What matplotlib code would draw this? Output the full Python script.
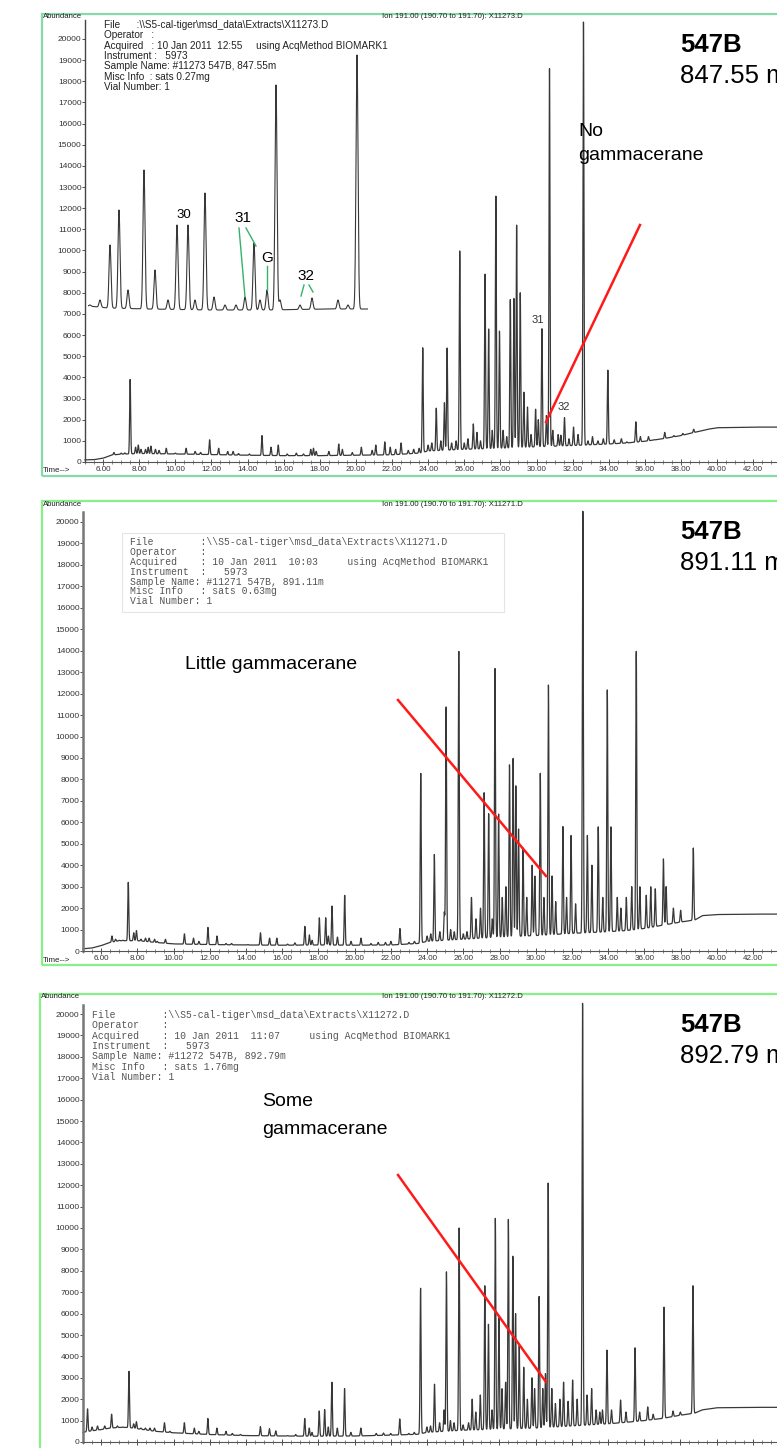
import numpy as np
import matplotlib
matplotlib.use("Agg")
import matplotlib.pyplot as plt
from matplotlib.patches import Rectangle
from matplotlib.lines import Line2D
from matplotlib.ticker import MultipleLocator, FormatStrFormatter

W, H = 777, 1448
plt.rcParams['font.family'] = ['Liberation Sans', 'DejaVu Sans']

# ---------------- data ----------------
# Panel 1 (847.55 m)
p1_base_t = [5, 5.5, 6, 6.5, 7, 8, 10, 12, 14, 16, 18, 20, 22, 23.5, 24, 26, 28, 30, 32, 34, 35, 36, 37, 38, 39, 39.5, 40, 42, 44]
p1_base_a = [100, 110, 180, 330, 370, 400, 380, 350, 320, 300, 300, 320, 340, 420, 520, 600, 650, 720, 780, 850, 900, 980, 1100, 1250, 1450, 1550, 1620, 1650, 1650]
p1_peak_t = [6.6, 7.0, 7.2, 7.5, 7.8, 7.95, 8.1, 8.35, 8.5, 8.65, 8.9, 9.1, 9.5, 10.0, 10.6, 11.1, 11.4, 11.9, 12.4, 12.9, 13.2, 13.5, 14.1, 14.8, 15.3, 15.7, 16.2, 16.7, 17.1, 17.5, 17.65, 17.8, 18.5, 19.05, 19.25, 19.8, 20.3, 20.9, 21.1, 21.6, 21.9, 22.2, 22.5, 22.9, 23.2, 23.5,
             23.7, 24.0, 24.2, 24.45, 24.7, 24.9, 25.05, 25.3, 25.55, 25.75, 26.0, 26.2, 26.5, 26.7, 26.9, 27.15, 27.35, 27.55, 27.75, 27.95, 28.15, 28.35, 28.55, 28.75, 28.9, 29.1, 29.3, 29.5, 29.7, 29.95, 30.1, 30.3, 30.55, 30.72, 30.9, 31.2, 31.35, 31.55, 31.8, 32.05, 32.3, 32.6, 32.85, 33.1, 33.4, 33.7, 33.95, 34.3, 34.7, 35.0, 35.5, 35.75, 36.2, 36.5, 37.1, 37.6, 38.1, 38.7]
p1_peak_a = [450, 420, 430, 3900, 700, 800, 600, 600, 700, 750, 600, 550, 650, 420, 650, 500, 450, 1050, 650, 500, 500, 400, 380, 1250, 700, 800, 380, 420, 380, 600, 650, 500, 500, 850, 600, 450, 700, 550, 800, 950, 700, 600, 900, 550, 600, 650,
             5400, 800, 900, 2550, 1000, 2800, 5400, 900, 1000, 10000, 900, 1100, 1800, 1400, 1000, 8900, 6300, 1500, 12600, 6200, 1500, 1200, 7700, 7750, 11200, 8000, 3300, 2600, 1300, 2500, 2000, 6300, 2200, 18600, 1500, 1300, 1270, 2100, 1100, 1650, 1300, 20800, 1000, 1200, 1000, 1100, 4350, 1050, 1100, 950, 1900, 1200, 1200, 1050, 1400, 1250, 1350, 1550]

# Panel 1 inset (expanded view, arbitrary units)
ins_base_x = [0, 20, 60, 120, 180, 240, 280]
ins_base_y = [12, 10, 9, 8, 8, 9, 9]
ins_peak_x = [2, 12, 22, 31, 40, 56, 67, 80, 89, 100, 107, 117, 126, 137, 148, 157, 166, 172, 179, 188, 192, 212, 224, 235, 250, 260, 269, 276]
ins_peak_y = [13, 18, 73, 108, 28, 148, 48, 18, 93, 93, 18, 125, 21, 13, 13, 21, 75, 18, 28, 233, 18, 13, 20, 8, 18, 13, 263, 8]

# Panel 2 (891.11 m)
p2_base_t = [5, 5.5, 6, 6.5, 7, 8, 9, 10, 12, 14, 16, 18, 20, 22, 23.5, 24, 26, 28, 30, 32, 34, 35, 36, 37, 38, 38.8, 39.2, 40, 42, 44]
p2_base_a = [100, 140, 250, 400, 480, 480, 400, 330, 300, 280, 270, 280, 270, 280, 350, 450, 550, 650, 720, 820, 900, 950, 1050, 1200, 1350, 1450, 1650, 1700, 1720, 1720]
p2_peak_t = [6.6, 6.8, 7.0, 7.2, 7.5, 7.8, 7.95, 8.2, 8.45, 8.65, 8.95, 9.1, 9.55, 10.6, 11.1, 11.4, 11.9, 12.4, 12.9, 13.2, 14.1, 14.8, 15.3, 15.7, 16.3, 16.7, 17.25, 17.5, 17.65, 18.05, 18.4, 18.55, 18.75, 19.05, 19.45, 19.8, 20.35, 20.9, 21.3, 21.7, 22.0, 22.5, 23.0, 23.3,
             23.65, 24.0, 24.2, 24.4, 24.7, 24.95, 25.05, 25.3, 25.5, 25.75, 26.0, 26.2, 26.45, 26.7, 26.95, 27.15, 27.4, 27.6, 27.75, 27.95, 28.15, 28.35, 28.55, 28.75, 28.9, 29.05, 29.3, 29.5, 29.8, 29.95, 30.25, 30.45, 30.7, 30.9, 31.1, 31.5, 31.7, 31.95, 32.2, 32.6, 32.85, 33.1, 33.45, 33.7, 33.95, 34.15, 34.5, 34.7, 35.0, 35.3, 35.55, 35.75, 36.1, 36.35, 36.6, 37.05, 37.2, 37.6, 38.0, 38.7]
p2_peak_a = [700, 550, 500, 500, 3200, 850, 950, 550, 600, 600, 550, 450, 550, 800, 600, 450, 1100, 700, 350, 350, 300, 850, 600, 600, 320, 380, 1150, 750, 500, 1550, 1550, 700, 2100, 650, 2600, 450, 600, 350, 400, 400, 450, 1050, 400, 450,
             8300, 700, 800, 4500, 900, 1800, 11400, 1000, 900, 14000, 800, 900, 2500, 1500, 2000, 7400, 6400, 1500, 13200, 6400, 2500, 3000, 8700, 9000, 7700, 5700, 4800, 2500, 4000, 3500, 8300, 2500, 12400, 3500, 2300, 5800, 2500, 5400, 2200, 20500, 5400, 4000, 5800, 2500, 12200, 5800, 2500, 2000, 2500, 3000, 14000, 3000, 2600, 3000, 2900, 4300, 3000, 2000, 1900, 4800]

# Panel 3 (892.79 m)
p3_base_t = [5, 5.3, 6, 6.5, 7, 7.5, 8, 9, 10, 12, 14, 16, 18, 20, 22, 23.5, 24, 26, 28, 30, 32, 34, 35, 36, 37, 38, 38.8, 39.2, 40, 42, 44]
p3_base_a = [450, 500, 580, 650, 680, 680, 620, 500, 430, 350, 300, 280, 270, 280, 320, 360, 450, 550, 600, 650, 750, 850, 920, 1000, 1100, 1250, 1350, 1500, 1600, 1620, 1620]
p3_peak_t = [5.25, 5.5, 5.8, 6.2, 6.58, 6.9, 7.2, 7.54, 7.8, 7.95, 8.2, 8.45, 8.7, 8.95, 9.5, 9.8, 10.6, 11.15, 11.4, 11.9, 12.4, 12.9, 13.25, 13.7, 14.8, 15.3, 15.65, 16.3, 16.75, 17.25, 17.5, 17.65, 18.05, 18.35, 18.55, 18.75, 19.05, 19.45, 19.8, 20.35, 21.2, 21.6, 22.0, 22.5, 23.0, 23.3,
             23.65, 24.0, 24.2, 24.42, 24.7, 24.95, 25.08, 25.3, 25.5, 25.78, 26.0, 26.3, 26.5, 26.7, 26.95, 27.2, 27.4, 27.6, 27.78, 27.98, 28.15, 28.35, 28.5, 28.75, 28.9, 29.1, 29.35, 29.55, 29.8, 29.95, 30.2, 30.4, 30.55, 30.7, 30.9, 31.1, 31.35, 31.55, 31.8, 32.05, 32.3, 32.6, 32.85, 33.1, 33.35, 33.55, 33.7, 33.95, 34.2, 34.7, 35.0, 35.5, 35.75, 36.2, 36.5, 37.1, 37.6, 38.0, 38.7]
p3_peak_a = [1550, 700, 750, 750, 1300, 750, 700, 3300, 850, 950, 650, 650, 650, 650, 900, 500, 900, 650, 500, 1100, 650, 500, 400, 350, 720, 620, 520, 300, 350, 1100, 650, 450, 1450, 1520, 700, 2800, 650, 2500, 450, 650, 400, 420, 400, 1080, 400, 450,
             7200, 700, 750, 2700, 900, 1500, 7950, 1000, 900, 10000, 800, 900, 2000, 1400, 2200, 7300, 5500, 1500, 10450, 5800, 2500, 2800, 10400, 8700, 6000, 4500, 3500, 2000, 3000, 2500, 6800, 2500, 3200, 12100, 2500, 1800, 2000, 2800, 1900, 2900, 2000, 20500, 2200, 2500, 1500, 1400, 1500, 4300, 1500, 1960, 1400, 4400, 1400, 1640, 1300, 6300, 1450, 1400, 7300]

info1 = ["File      :\\\\S5-cal-tiger\\msd_data\\Extracts\\X11273.D",
         "Operator   :",
         "Acquired   : 10 Jan 2011  12:55     using AcqMethod BIOMARK1",
         "Instrument :   5973",
         "Sample Name: #11273 547B, 847.55m",
         "Misc Info  : sats 0.27mg",
         "Vial Number: 1"]
info2 = ["File        :\\\\S5-cal-tiger\\msd_data\\Extracts\\X11271.D",
         "Operator    :",
         "Acquired    : 10 Jan 2011  10:03     using AcqMethod BIOMARK1",
         "Instrument  :   5973",
         "Sample Name: #11271 547B, 891.11m",
         "Misc Info   : sats 0.63mg",
         "Vial Number: 1"]
info3 = ["File        :\\\\S5-cal-tiger\\msd_data\\Extracts\\X11272.D",
         "Operator    :",
         "Acquired    : 10 Jan 2011  11:07     using AcqMethod BIOMARK1",
         "Instrument  :   5973",
         "Sample Name: #11272 547B, 892.79m",
         "Misc Info   : sats 1.76mg",
         "Vial Number: 1"]
ion_labels = ["Ion 191.00 (190.70 to 191.70): X11273.D",
              "Ion 191.00 (190.70 to 191.70): X11271.D",
              "Ion 191.00 (190.70 to 191.70): X11272.D"]
depths = ["847.55 m", "891.11 m", "892.79 m"]

# ---------------- helpers ----------------
def fx(x):
    return x / W

def fy(y):
    return 1 - y / H

def trace(tgrid, bt, ba, pt, pa, sigma):
    base = np.interp(tgrid, bt, ba)
    sig = base.copy()
    pt = np.asarray(pt, float)
    pa = np.asarray(pa, float) - np.interp(pt, bt, ba)
    for c, a in zip(pt, pa):
        sig += max(a, 0) * np.exp(-0.5 * ((tgrid - c) / sigma) ** 2)
    return sig

fig = plt.figure(figsize=(W / 100, H / 100), dpi=100)

panels = [
    dict(ax_x=85, zero_y=462, pp1000=21.15, ppm=18.06, top_y=20, frame=(42, 14, 476), fcol='#86d9a8',
         bt=p1_base_t, ba=p1_base_a, pt=p1_peak_t, pa=p1_peak_a, dotted=True, xlab=True),
    dict(ax_x=83, zero_y=951, pp1000=21.45, ppm=18.11, top_y=512, frame=(42, 501, 965), fcol='#88f088',
         bt=p2_base_t, ba=p2_base_a, pt=p2_peak_t, pa=p2_peak_a, dotted=False, xlab=True),
    dict(ax_x=83, zero_y=1442, pp1000=21.4, ppm=18.1, top_y=1005, frame=(40, 994, 1470), fcol='#88f088',
         bt=p3_base_t, ba=p3_base_a, pt=p3_peak_t, pa=p3_peak_a, dotted=False, xlab=False),
]

tgrid = np.arange(5.0, 44.0, 0.004)
axes = []
for i, p in enumerate(panels):
    l, t, b = p['frame']
    fig.patches.append(Rectangle((fx(l), fy(b)), fx(900 - l), (b - t) / H, transform=fig.transFigure,
                                 fill=False, edgecolor=p['fcol'], lw=1.6, zorder=0))
    ax = fig.add_axes([fx(p['ax_x']), fy(p['zero_y']), (W - p['ax_x']) / W, (p['zero_y'] - p['top_y']) / H])
    ax.set_facecolor('none')
    ax.set_xlim(5.0, 5.0 + (W - p['ax_x']) / p['ppm'])
    ax.set_ylim(0, (p['zero_y'] - p['top_y']) / p['pp1000'] * 1000)
    y = trace(tgrid, p['bt'], p['ba'], p['pt'], p['pa'], 0.028)
    ax.plot(tgrid, y, color='#383838', lw=0.9, clip_on=False)
    for s in ['top', 'right']:
        ax.spines[s].set_visible(False)
    ax.spines['bottom'].set_color('#555555')
    ax.spines['bottom'].set_linewidth(0.8)
    if p['dotted']:
        ax.spines['left'].set_linestyle((0, (1, 1)))
        ax.spines['left'].set_color('#444444')
        ax.spines['left'].set_linewidth(1.0)
    else:
        ax.spines['left'].set_color('#777777')
        ax.spines['left'].set_linewidth(1.8)
    ax.yaxis.set_major_locator(MultipleLocator(1000))
    ax.yaxis.set_major_formatter(FormatStrFormatter('%d'))
    ax.xaxis.set_major_locator(MultipleLocator(2))
    ax.xaxis.set_minor_locator(MultipleLocator(0.5))
    ax.xaxis.set_major_formatter(FormatStrFormatter('%.2f'))
    ax.set_xticks([v for v in np.arange(6, 44, 2)])
    ax.tick_params(axis='y', labelsize=6.0, length=2, width=0.6, pad=0.5, colors='#333333')
    ax.tick_params(axis='x', which='major', labelsize=5.8, length=4, width=0.6, direction='inout', pad=1.0,
                   colors='#333333', labelbottom=p['xlab'])
    ax.tick_params(axis='x', which='minor', length=3, width=0.5, direction='inout', colors='#555555')
    axes.append(ax)
    # header texts
    fig.text(fx(l + 1), fy(t + 3), "Abundance", fontsize=5.6, va='center', ha='left', color='#222222')
    fig.text(fx(382), fy(t + 3), ion_labels[i], fontsize=5.6, va='center', ha='left', color='#222222')
    if p['xlab']:
        fig.text(fx(l + 1), fy(p['zero_y'] + 9), "Time-->", fontsize=5.8, va='center', ha='left', color='#222222')
    # sample label (cut at the right edge, as in the source image)
    big_y = [45, 532, 1025][i]
    fig.text(fx(680), fy(big_y), "547B", fontsize=18.5, fontweight='bold', va='center', ha='left')
    fig.text(fx(680), fy(big_y + 31), depths[i], fontsize=18.5, va='center', ha='left')

# info blocks
for k, line in enumerate(info1):
    fig.text(fx(104), fy(25 + k * 10.3), line, fontsize=7.2, va='center', ha='left', color='#222222')
fig.patches.append(Rectangle((fx(122), fy(612)), fx(504 - 122), (612 - 533) / H, transform=fig.transFigure,
                             fill=False, edgecolor='#e4e4e4', lw=0.8))
for k, line in enumerate(info2):
    fig.text(fx(130), fy(542 + k * 9.9), line, fontsize=7.0, va='center', ha='left', color='#555555',
             family=['Liberation Mono', 'DejaVu Sans Mono'])
for k, line in enumerate(info3):
    fig.text(fx(92), fy(1015 + k * 10.3), line, fontsize=7.0, va='center', ha='left', color='#555555',
             family=['Liberation Mono', 'DejaVu Sans Mono'])

# inset in panel 1
ins = fig.add_axes([fx(88), fy(318), fx(280), (318 - 50) / H])
ins.set_xlim(0, 280)
ins.set_ylim(0, 268)
ins.axis('off')
ig = np.arange(0, 280, 0.1)
iy = trace(ig, ins_base_x, ins_base_y, ins_peak_x, ins_peak_y, 1.0)
ins.plot(ig, iy, color='#383838', lw=0.8)

# inset labels
fig.text(fx(184), fy(215), "30", fontsize=9.5, ha='center', va='center')
fig.text(fx(243), fy(218), "31", fontsize=11, ha='center', va='center')
fig.text(fx(267), fy(258), "G", fontsize=11, ha='center', va='center')
fig.text(fx(306), fy(276), "32", fontsize=11, ha='center', va='center')
green = '#33b36a'
for (x0, y0, x1, y1) in [(239, 228, 245, 297), (246, 228, 256, 246), (267, 266, 267, 290),
                         (304, 285, 301, 296), (309, 285, 313, 292)]:
    fig.add_artist(Line2D([fx(x0), fx(x1)], [fy(y0), fy(y1)], transform=fig.transFigure, color=green, lw=1.0))

# main panel 1 small labels
fig.text(fx(538), fy(320), "31", fontsize=8, ha='center', va='center', color='#333333')
fig.text(fx(564), fy(407), "32", fontsize=8, ha='center', va='center', color='#333333')

# annotations
fig.text(fx(578), fy(131), "No", fontsize=14, ha='left', va='center')
fig.text(fx(578), fy(156), "gammacerane", fontsize=14, ha='left', va='center')
fig.add_artist(Line2D([fx(640), fx(546)], [fy(225), fy(422)], transform=fig.transFigure, color='#ff1a1a', lw=1.8))

fig.text(fx(185), fy(664), "Little gammacerane", fontsize=14, ha='left', va='center')
fig.add_artist(Line2D([fx(398), fx(546)], [fy(700), fy(876)], transform=fig.transFigure, color='#ff1a1a', lw=1.8))

fig.text(fx(262), fy(1101), "Some", fontsize=14, ha='left', va='center')
fig.text(fx(262), fy(1129), "gammacerane", fontsize=14, ha='left', va='center')
fig.add_artist(Line2D([fx(398), fx(546)], [fy(1175), fy(1382)], transform=fig.transFigure, color='#ff1a1a', lw=1.8))

fig.savefig("out.png", dpi=100, facecolor='white')
